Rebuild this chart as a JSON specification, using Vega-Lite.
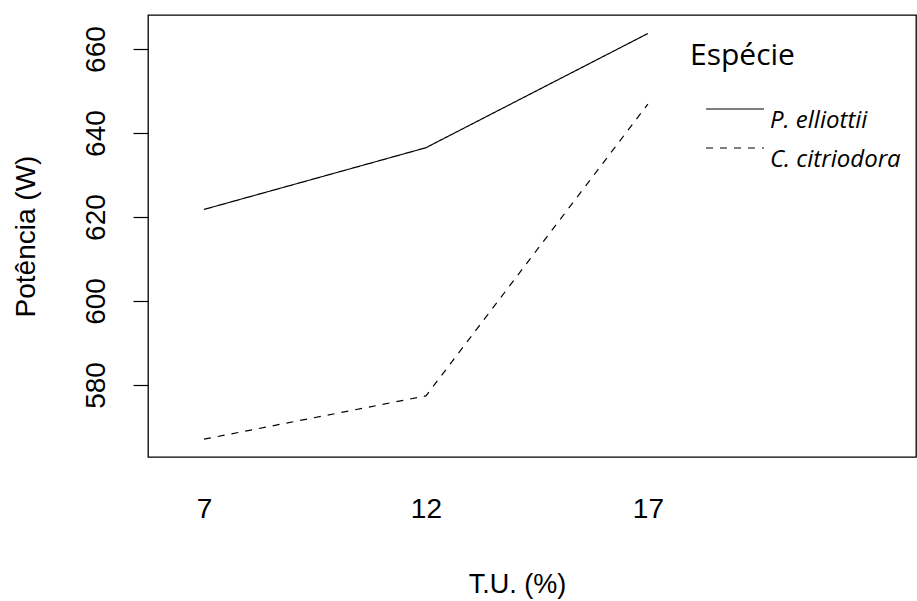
{
  "$schema": "https://vega.github.io/schema/vega-lite/v6.json",
  "width": 768,
  "height": 442,
  "autosize": {"type": "none"},
  "padding": {"left": 148, "top": 15, "right": 1, "bottom": 144},
  "background": "white",
  "data": {"values": [
    {"tu": 7, "pot": 621.8, "especie": "P. elliottii"},
    {"tu": 12, "pot": 636.5, "especie": "P. elliottii"},
    {"tu": 17, "pot": 663.7, "especie": "P. elliottii"},
    {"tu": 7, "pot": 567.1, "especie": "C. citriodora"},
    {"tu": 12, "pot": 577.4, "especie": "C. citriodora"},
    {"tu": 17, "pot": 646.9, "especie": "C. citriodora"}
  ]},
  "config": {
    "view": {"stroke": "black", "strokeWidth": 1.3}
  },
  "mark": {"type": "line", "color": "black", "strokeWidth": 1.2},
  "encoding": {
    "x": {"field": "tu", "type": "quantitative", "scale": {"domain": [5.739, 23.04], "nice": false, "zero": false},
      "axis": {"values": [7, 12, 17], "ticks": false, "domain": false, "grid": false, "labelPadding": 38, "title": "T.U. (%)", "titlePadding": 48, "titleX": 369,
        "labelFont": "Liberation Sans", "titleFont": "Liberation Sans", "labelFontSize": 28, "titleFontSize": 27, "labelColor": "black", "titleColor": "black", "titleFontWeight": "normal"}},
    "y": {"field": "pot", "type": "quantitative", "scale": {"domain": [562.86, 668.1], "nice": false, "zero": false},
      "axis": {"values": [580, 600, 620, 640, 660], "domain": false, "grid": false, "tickSize": 15, "tickColor": "black", "tickWidth": 1.2, "labelAngle": -90, "labelAlign": "center", "labelBaseline": "bottom", "labelPadding": 23, "title": "Potência (W)", "titlePadding": 42,
        "labelFont": "Liberation Sans", "titleFont": "Liberation Sans", "labelFontSize": 28, "titleFontSize": 28, "labelColor": "black", "titleColor": "black", "titleFontWeight": "normal"}},
    "strokeDash": {"field": "especie", "type": "nominal",
      "scale": {"domain": ["P. elliottii", "C. citriodora"], "range": [[1, 0], [7, 7]]},
      "legend": {"orient": "none", "legendX": 542, "legendY": 26, "title": "Espécie", "titleFont": "Open Sans", "titleFontSize": 30, "titleFontWeight": "normal", "titleColor": "black", "titlePadding": 26,
        "symbolType": "stroke", "symbolSize": 3364, "symbolStrokeColor": "black", "symbolStrokeWidth": 1.2, "symbolOffset": 15, "clipHeight": 24, "rowPadding": 3,
        "labelFont": "Open Sans", "labelFontStyle": "italic", "labelFontSize": 24, "labelBaseline": "top", "labelColor": "black", "labelOffset": 5}}
  }
}
